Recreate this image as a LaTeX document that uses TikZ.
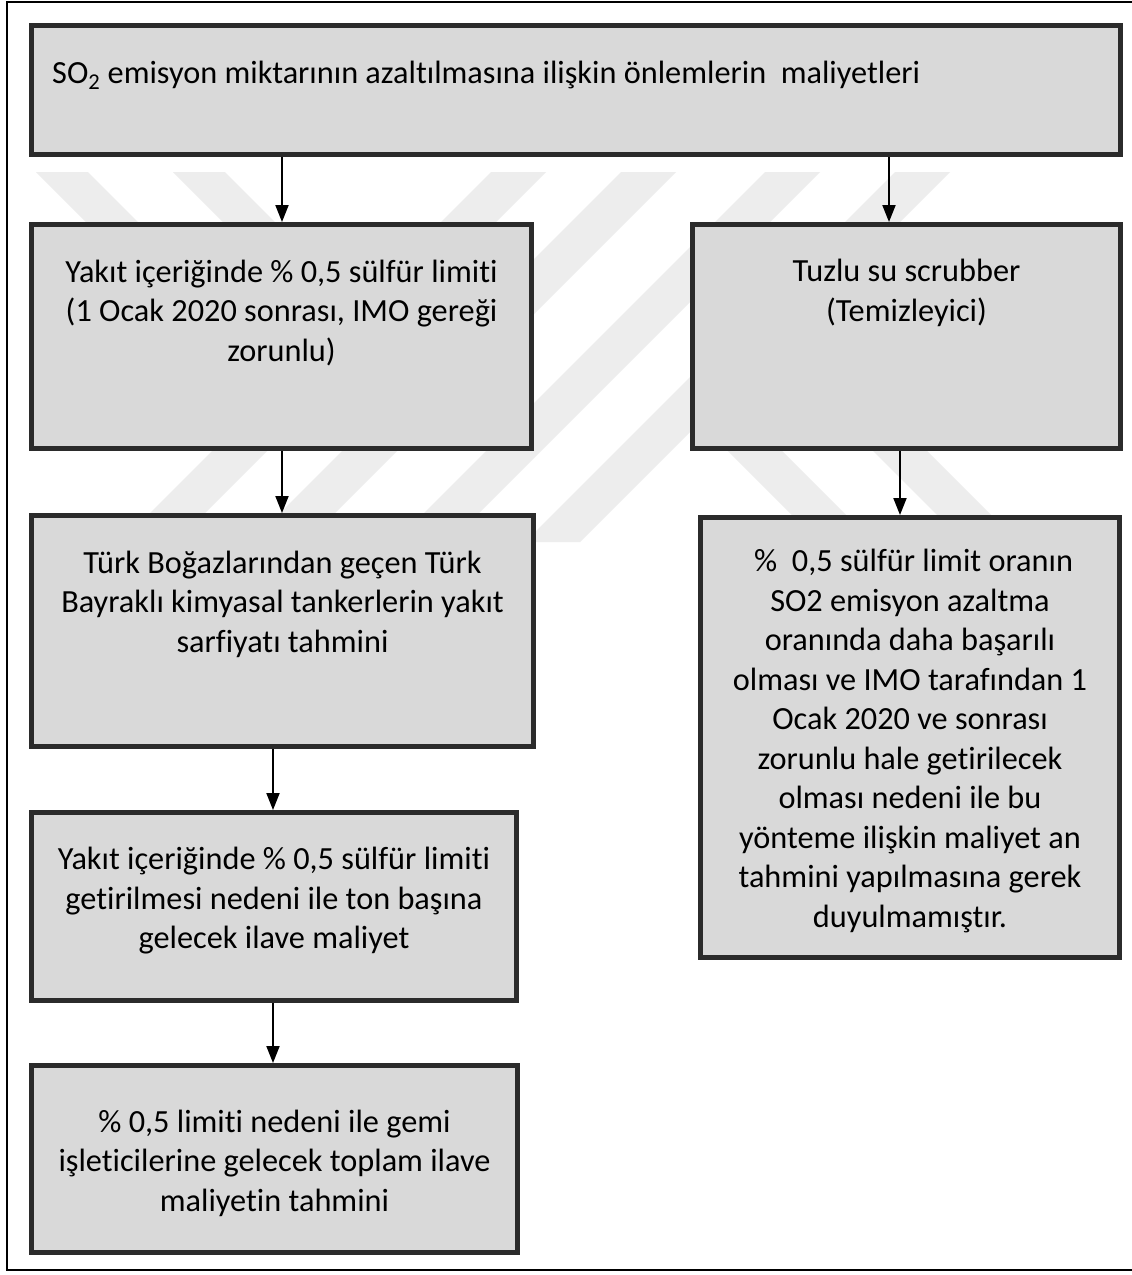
\documentclass[tikz,border=0pt]{standalone}
\usepackage{fontspec}
\setmainfont{Carlito}[Ligatures=NoCommon]
\usetikzlibrary{arrows.meta,calc}
\definecolor{boxline}{HTML}{2B2B2B}
\definecolor{boxfill}{HTML}{D9D9D9}
\definecolor{wmgray}{HTML}{EDEDED}
\tikzset{
  box/.style={draw=boxline, line width=5pt, fill=boxfill, inner sep=0pt},
  txt/.style={align=center, font=\fontsize{32.3}{39.5}\selectfont, inner sep=0pt},
  arr/.style={line width=2pt, -{Triangle[width=13pt,length=17pt]}},
  wm/.style={fill=wmgray, draw=none},
}
\begin{document}
\begin{tikzpicture}[x=1pt,y=-1pt]
\useasboundingbox (0,0) rectangle (1132,1275);
\clip (0,0) rectangle (1132,1275);
\fill[white] (0,0) rectangle (1132,1275);
% faint watermark
\foreach \x in {491,621,765,895}
  \fill[wm] (\x,172) -- (\x+55,172) -- (\x+55-370,542) -- (\x-370,542) -- cycle;
\foreach \x in {36,173}
  \fill[wm] (\x,172) -- (\x+52,172) -- (\x+52+228,400) -- (\x+228,400) -- cycle;
\foreach \x in {697,842}
  \fill[wm] (\x,420) -- (\x+54,420) -- (\x+54+122,542) -- (\x+122,542) -- cycle;
% outer frame
\draw[line width=1.8pt] (7,2) rectangle (1145,1270);
% boxes
\node[box, minimum width=1089pt, minimum height=129pt] (top) at (576,90) {};
\node[box, minimum width=500pt, minimum height=224pt] (b2) at (281.5,336.5) {};
\node[box, minimum width=428pt, minimum height=224pt] (r1) at (906.5,336.5) {};
\node[box, minimum width=502pt, minimum height=231pt] (b3) at (282.5,631) {};
\node[box, minimum width=485pt, minimum height=188pt] (b4) at (274,906.5) {};
\node[box, minimum width=486pt, minimum height=187pt] (b5) at (274.5,1159) {};
\node[box, minimum width=419pt, minimum height=440pt] (r2) at (910,737.5) {};
% texts
\node[txt, anchor=west] (topt) at (52,75) {SO\textsubscript{2} emisyon miktarının azaltılmasına ilişkin önlemlerin\ \ maliyetleri};
\node[txt] (b2t) at (281.5,313) {Yakıt içeriğinde \% 0,5 sülfür limiti\\(1 Ocak 2020 sonrası, IMO gereği\\zorunlu)};
\node[txt] (r1t) at (906.5,293) {Tuzlu su scrubber\\(Temizleyici)};
\node[txt] (b3t) at (282.5,604) {Türk Boğazlarından geçen Türk\\Bayraklı kimyasal tankerlerin yakıt\\sarfiyatı tahmini};
\node[txt] (b4t) at (274,901) {Yakıt içeriğinde \% 0,5 sülfür limiti\\getirilmesi nedeni ile ton başına\\gelecek ilave maliyet};
\node[txt] (b5t) at (274.5,1163) {\% 0,5 limiti nedeni ile gemi\\işleticilerine gelecek toplam ilave\\maliyetin tahmini};
\node[txt] (r2t) at (910,741) {\ \%\ \ 0,5 sülfür limit oranın\\SO2 emisyon azaltma\\oranında daha başarılı\\olması ve IMO tarafından 1\\Ocak 2020 ve sonrası\\zorunlu hale getirilecek\\olması nedeni ile bu\\yönteme ilişkin maliyet an\\tahmini yapılmasına gerek\\duyulmamıştır.};
% connector x positions
\coordinate (xa) at (282,0);
\coordinate (xb) at (889,0);
\coordinate (xc) at (273,0);
\coordinate (xd) at (900,0);
% connectors
\draw[arr] (top.south -| xa) -- (b2.north -| xa);
\draw[arr] (top.south -| xb) -- (r1.north -| xb);
\draw[arr] (b2.south -| xa) -- (b3.north -| xa);
\draw[arr] (b3.south -| xc) -- (b4.north -| xc);
\draw[arr] (b4.south -| xc) -- (b5.north -| xc);
\draw[arr] (r1.south -| xd) -- (r2.north -| xd);
\end{tikzpicture}
\end{document}
